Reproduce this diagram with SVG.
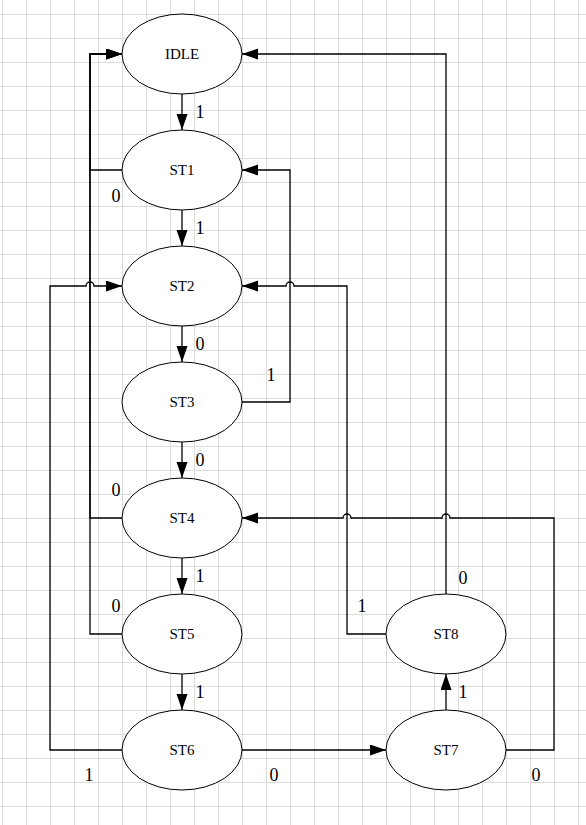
<svg xmlns="http://www.w3.org/2000/svg" width="586" height="825" viewBox="0 0 586 825">
<style>
.node ellipse{fill:#fff;stroke:#000;stroke-width:1}
.node text{font-family:"Liberation Serif",serif;font-size:15px;text-anchor:middle;fill:#000}
.edge{fill:none;stroke:#000;stroke-width:1.3}
.arr{marker-end:url(#ah)}
.lbl{font-family:"Liberation Serif",serif;font-size:18px;text-anchor:middle;fill:#000}
</style>
<defs>
<pattern id="grid" patternUnits="userSpaceOnUse" width="24" height="24">
<path d="M2.5 0V24M0 14.5H24" stroke="#dcdcdc" stroke-width="1" fill="none"/>
</pattern>
<marker id="ah" markerUnits="userSpaceOnUse" markerWidth="17" markerHeight="12" refX="16" refY="5.5" orient="auto">
<path d="M0 0L16 5.5L0 11z" fill="#000"/>
</marker>
</defs>
<rect width="586" height="825" fill="#fff"/>
<rect width="586" height="825" fill="url(#grid)"/>
<g id="connectors">
<path class="edge arr" d="M182 94V130"/>
<path class="edge arr" d="M122 170H90V54H122"/>
<path class="edge arr" d="M182 210V246"/>
<path class="edge arr" d="M182 326V362"/>
<path class="edge arr" d="M242 402H290V170H242"/>
<path class="edge arr" d="M182 442V478"/>
<path class="edge arr" d="M122 518H90V54H122"/>
<path class="edge arr" d="M182 558V594"/>
<path class="edge arr" d="M122 634H90V54H122"/>
<path class="edge arr" d="M182 674V710"/>
<path class="edge arr" d="M122 750H50V286H86a4 4 0 0 1 8 0H122"/>
<path class="edge arr" d="M242 750H386"/>
<path class="edge arr" d="M446 710V674"/>
<path class="edge arr" d="M506 750H554V518H450a4 4 0 0 0 -8 0H351a4 4 0 0 0 -8 0H242"/>
<path class="edge arr" d="M446 594V54H242"/>
<path class="edge arr" d="M386 634H347V286H294a4 4 0 0 0 -8 0H242"/>
<text class="lbl" x="200" y="118">1</text>
<text class="lbl" x="116" y="202">0</text>
<text class="lbl" x="200" y="234">1</text>
<text class="lbl" x="200" y="350">0</text>
<text class="lbl" x="271" y="381">1</text>
<text class="lbl" x="200" y="466">0</text>
<text class="lbl" x="116" y="496">0</text>
<text class="lbl" x="200" y="582">1</text>
<text class="lbl" x="116" y="612">0</text>
<text class="lbl" x="200" y="698">1</text>
<text class="lbl" x="89" y="781">1</text>
<text class="lbl" x="274" y="781">0</text>
<text class="lbl" x="536" y="781">0</text>
<text class="lbl" x="463" y="698">1</text>
<text class="lbl" x="362" y="612">1</text>
<text class="lbl" x="463" y="584">0</text>
</g>
<g id="IDLE" class="node"><ellipse cx="182" cy="54" rx="60" ry="40"/><text x="182" y="59">IDLE</text></g>
<g id="ST1" class="node"><ellipse cx="182" cy="170" rx="60" ry="40"/><text x="182" y="175">ST1</text></g>
<g id="ST2" class="node"><ellipse cx="182" cy="286" rx="60" ry="40"/><text x="182" y="291">ST2</text></g>
<g id="ST3" class="node"><ellipse cx="182" cy="402" rx="60" ry="40"/><text x="182" y="407">ST3</text></g>
<g id="ST4" class="node"><ellipse cx="182" cy="518" rx="60" ry="40"/><text x="182" y="523">ST4</text></g>
<g id="ST5" class="node"><ellipse cx="182" cy="634" rx="60" ry="40"/><text x="182" y="639">ST5</text></g>
<g id="ST6" class="node"><ellipse cx="182" cy="750" rx="60" ry="40"/><text x="182" y="755">ST6</text></g>
<g id="ST7" class="node"><ellipse cx="446" cy="750" rx="60" ry="40"/><text x="446" y="755">ST7</text></g>
<g id="ST8" class="node"><ellipse cx="446" cy="634" rx="60" ry="40"/><text x="446" y="639">ST8</text></g>
</svg>
